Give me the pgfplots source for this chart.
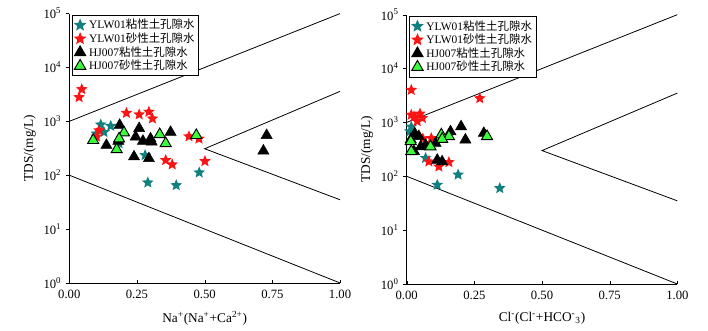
\documentclass[border=0pt]{standalone}
\usepackage{fontspec}
\setmainfont{Liberation Serif}
\newfontfamily\cjk{Noto Sans CJK SC}
\usepackage{pgfplots}
\pgfplotsset{compat=1.18}

\definecolor{tealc}{RGB}{16,128,128}
\definecolor{redc}{RGB}{250,20,20}
\definecolor{greenc}{RGB}{60,250,60}

% filled five-point star
\pgfdeclareplotmark{fstar}{%
  \pgfpathmoveto{\pgfpointpolar{90}{\pgfplotmarksize}}%
  \pgfpathlineto{\pgfpointpolar{126}{0.45\pgfplotmarksize}}%
  \pgfpathlineto{\pgfpointpolar{162}{\pgfplotmarksize}}%
  \pgfpathlineto{\pgfpointpolar{198}{0.45\pgfplotmarksize}}%
  \pgfpathlineto{\pgfpointpolar{234}{\pgfplotmarksize}}%
  \pgfpathlineto{\pgfpointpolar{270}{0.45\pgfplotmarksize}}%
  \pgfpathlineto{\pgfpointpolar{306}{\pgfplotmarksize}}%
  \pgfpathlineto{\pgfpointpolar{342}{0.45\pgfplotmarksize}}%
  \pgfpathlineto{\pgfpointpolar{18}{\pgfplotmarksize}}%
  \pgfpathlineto{\pgfpointpolar{54}{0.45\pgfplotmarksize}}%
  \pgfpathclose\pgfusepathqfill}

\pgfplotsset{
  gibbs/.style={
    scale only axis, width=203pt, height=202pt,
    anchor=south west,
    xmin=0, xmax=1, ymin=1, ymax=1e5,
    axis x line*=bottom, axis y line*=left,
    axis line style={-, black},
    xtick={0,0.25,0.5,0.75,1},
    xticklabels={0.00,0.25,0.50,0.75,1.00},
    ytick={1,10,100,1000,10000,100000},
    yticklabels={10\textsuperscript{0},10\textsuperscript{1},10\textsuperscript{2},10\textsuperscript{3},10\textsuperscript{4},10\textsuperscript{5}},
    x tick style={black}, y tick style={black},
    xtick align=inside, ytick align=outside,
    major tick length=2.5pt, minor tick length=0pt,
    tick label style={font=\fontsize{9.5}{11}\selectfont},
    xticklabel style={yshift=-1.5pt},
    label style={font=\fontsize{10}{12}\selectfont},
    ylabel={TDS/(mg/L)},
    ylabel style={yshift=-1pt},
    xlabel style={yshift=-3pt},
    clip=false,
    legend style={at={(0.01,0.995)}, anchor=north west, draw=black, line width=0.6pt,
      font=\fontsize{8.6}{9.5}\selectfont, inner sep=1pt, row sep=-2.5pt,
      legend cell align=left},
    legend image post style={mark size=5pt},
  },
  tstar/.style={only marks, mark=fstar, mark size=4.6pt, color=tealc, fill=tealc},
  rstar/.style={only marks, mark=fstar, mark size=4.6pt, color=redc, fill=redc},
  btri/.style={only marks, mark=triangle*, mark size=4.8pt, mark options={fill=black, draw=black}},
  gtri/.style={only marks, mark=triangle*, mark size=4.8pt, mark options={fill=greenc, draw=black, line width=0.7pt}},
  bound/.style={black, line width=0.6pt, no marks, forget plot},
}

\begin{document}
\begin{tikzpicture}
\useasboundingbox (0,0) rectangle (531pt,247.5pt);

% ---- left: Na+/(Na+ + Ca2+)
\begin{semilogyaxis}[gibbs, at={(52pt,35.3pt)},
  xlabel={Na\textsuperscript{+}(Na\textsuperscript{+}+Ca\textsuperscript{2+})}]
\addplot[bound] coordinates {(0,1000) (1,100000)};
\addplot[bound] coordinates {(0,100) (1,1)};
\addplot[bound] coordinates {(1,3600) (0.5,310) (1,35)};
\addplot[tstar] coordinates {
  (0.116,870) (0.153,820) (0.128,630) (0.100,590) (0.184,390)
  (0.280,235) (0.290,73) (0.395,65) (0.480,112)};
\addlegendentry{YLW01{\cjk 粘性土孔隙水}}
\addplot[rstar] coordinates {
  (0.046,3940) (0.036,2800) (0.211,1430) (0.258,1340) (0.294,1500)
  (0.307,1125) (0.110,680) (0.100,520) (0.442,525) (0.479,475)
  (0.356,190) (0.380,158) (0.501,182)};
\addlegendentry{YLW01{\cjk 砂性土孔隙水}}
\addplot[btri] coordinates {
  (0.186,850) (0.137,360) (0.258,740) (0.245,515) (0.272,430)
  (0.300,475) (0.374,630) (0.239,220) (0.294,204) (0.181,430)
  (0.729,550) (0.717,283) (0.304,415)};
\addlegendentry{HJ007{\cjk 粘性土孔隙水}}
\addplot[gtri] coordinates {
  (0.088,445) (0.202,615) (0.184,475) (0.175,300) (0.334,570)
  (0.356,390) (0.469,550)};
\addlegendentry{HJ007{\cjk 砂性土孔隙水}}
\end{semilogyaxis}

% ---- right: Cl-/(Cl- + HCO3-)
\begin{semilogyaxis}[gibbs, at={(305pt,34.5pt)},
  xlabel={Cl\textsuperscript{-}(Cl\textsuperscript{-}+HCO\textsuperscript{-}\textsubscript{3})}]
\addplot[bound] coordinates {(0,1000) (1,100000)};
\addplot[bound] coordinates {(0,100) (1,1)};
\addplot[bound] coordinates {(1,3500) (0.5,300) (1,35)};
\addplot[tstar] coordinates {
  (0.017,830) (0.012,680) (0.070,218) (0.190,107) (0.113,69) (0.344,60)};
\addlegendentry{YLW01{\cjk 粘性土孔隙水}}
\addplot[rstar] coordinates {
  (0.017,4000) (0.270,2800) (0.027,1290) (0.049,1450) (0.058,1200)
  (0.039,1050) (0.017,1380) (0.091,510) (0.082,187) (0.119,151)
  (0.156,182) (0.060,500)};
\addlegendentry{YLW01{\cjk 砂性土孔隙水}}
\addplot[btri] coordinates {
  (0.201,835) (0.162,675) (0.217,475) (0.285,630) (0.045,550)
  (0.052,355) (0.107,410) (0.113,200) (0.131,187) (0.015,480)
  (0.027,290) (0.070,380) (0.030,620)};
\addlegendentry{HJ007{\cjk 粘性土孔隙水}}
\addplot[gtri] coordinates {
  (0.297,550) (0.128,590) (0.156,550) (0.131,490) (0.088,355)
  (0.017,290) (0.015,445)};
\addlegendentry{HJ007{\cjk 砂性土孔隙水}}
\end{semilogyaxis}
\end{tikzpicture}
\end{document}
